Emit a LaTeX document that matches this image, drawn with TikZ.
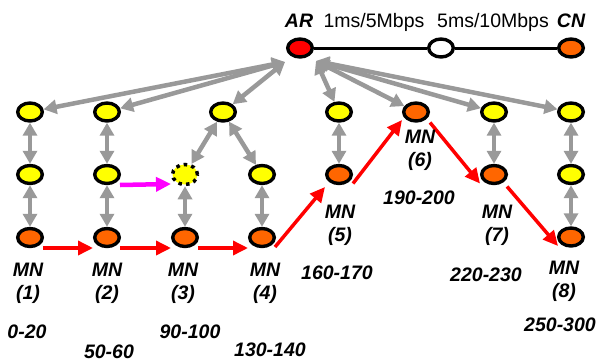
\documentclass[tikz,border=0pt]{standalone}
\usepackage{fontspec}
\setmainfont{Liberation Sans}
\usetikzlibrary{arrows.meta,calc,shapes.geometric}
\definecolor{grayc}{HTML}{999999}
\definecolor{yellowc}{HTML}{FFFF00}
\definecolor{orangec}{HTML}{FF6600}
\definecolor{redc}{HTML}{FF0000}
\definecolor{magc}{HTML}{FF00FF}
\begin{document}
\begin{tikzpicture}[x=1pt,y=-1pt,
  nd/.style={ellipse, draw=black, line width=3.4pt, minimum width=24.6pt, minimum height=18pt, inner sep=0pt},
  yel/.style={nd, fill=yellowc},
  org/.style={nd, fill=orangec},
  arnode/.style={nd, fill=redc},
  whnode/.style={nd, fill=white},
  dotnode/.style={ellipse, draw=black, line width=3.5pt, dash pattern=on 3.5pt off 4.2pt, fill=yellowc, minimum width=25pt, minimum height=20pt, inner sep=0pt},
  garrow/.style={draw=grayc, line width=4.5pt, {Triangle[length=13pt,width=14pt]}-{Triangle[length=13pt,width=14pt]}},
  rarrow/.style={draw=redc, line width=3.5pt, -{Triangle[length=15pt,width=14pt]}},
  marrow/.style={draw=magc, line width=4.5pt, -{Triangle[length=15pt,width=14pt]}},
  link/.style={draw=black, line width=3pt},
  lbl/.style={font=\fontsize{19.5}{23}\selectfont\bfseries\itshape, inner sep=0pt, align=center},
  rng/.style={font=\fontsize{19.5}{23}\selectfont\bfseries\itshape, inner sep=0pt},
  toptxt/.style={font=\fontsize{19.5}{23}\selectfont, inner sep=0pt, anchor=base},
]
\useasboundingbox (0,0) rectangle (599,362);

% top line
\node[arnode] (AR) at (300,48) {};
\node[whnode] (W) at (441,48) {};
\node[org] (CN) at (571,48) {};
\draw[link] (AR) -- (W) -- (CN);
\node[toptxt] (ARt) at (299,27) {\bfseries\itshape AR};
\node[toptxt] (l1) at (374,27) {1ms/5Mbps};
\node[toptxt] (l2) at (493,27) {5ms/10Mbps};
\node[toptxt] (CNt) at (571,27) {\bfseries\itshape CN};

% top row
\node[yel] (t1) at (30,112) {};
\node[yel] (t2) at (107,112) {};
\node[yel] (t3) at (223,112) {};
\node[yel] (t5) at (339,112) {};
\node[org] (n6) at (416,112) {};
\node[yel] (t7) at (494,112) {};
\node[yel] (t8) at (571,112) {};
% middle row
\node[yel] (m1) at (30,174.5) {};
\node[yel] (m2) at (107,174.5) {};
\node[dotnode] (d3) at (185,174.5) {};
\node[yel] (m4) at (262,174.5) {};
\node[org] (n5) at (339,174.5) {};
\node[org] (n7) at (494,174.5) {};
\node[yel] (m8) at (571,174.5) {};
% bottom row
\node[org] (n1) at (30,237.5) {};
\node[org] (n2) at (107,237.5) {};
\node[org] (n3) at (185,237.5) {};
\node[org] (n4) at (262,237.5) {};
\node[org] (n8) at (571,237) {};

% gray arrows from AR
\coordinate (ARl) at (285,62);
\coordinate (ARr) at (316,61);
\draw[garrow] (ARl) -- (t1);
\draw[garrow] (ARl) -- (t2);
\draw[garrow] (ARl) -- (t3);
\draw[garrow] (ARr) -- (t5);
\draw[garrow] (ARr) -- (n6);
\draw[garrow] (ARr) -- (t7);
\draw[garrow] (ARr) -- (t8);

% vertical gray arrows
\draw[garrow] (t1) -- (m1);
\draw[garrow] (m1) -- (n1);
\draw[garrow] (t2) -- (m2);
\draw[garrow] (m2) -- (n2);
\draw[garrow] (t3) -- (d3);
\draw[garrow] (t3) -- (m4);
\draw[garrow] (d3) -- (n3);
\draw[garrow] (m4) -- (n4);
\draw[garrow] (t5) -- (n5);
\draw[garrow] (t7) -- (n7);
\draw[garrow] (t8) -- (m8);
\draw[garrow] (m8) -- (n8);

% magenta
\draw[marrow] ($(m2)+(13,10.5)$) -- ($(d3)+(-14,9.5)$);

% red path
\draw[rarrow] ($(n1)+(13,10.5)$) -- ($(n2)+(-14,10.5)$);
\draw[rarrow] ($(n2)+(13,10.5)$) -- ($(n3)+(-14,10.5)$);
\draw[rarrow] ($(n3)+(13,10.5)$) -- ($(n4)+(-14,10.5)$);
\draw[rarrow] ($(n4)+(13,9.5)$) -- ($(n5)+(-14,12.5)$);
\draw[rarrow] ($(n5)+(14,9)$) -- ($(n6)+(-14,8)$);
\draw[rarrow] ($(n6)+(14,10.5)$) -- ($(n7)+(-14,9)$);
\draw[rarrow] ($(n7)+(13,12)$) -- ($(n8)+(-13,9)$);

% MN labels
\node[lbl] (L1) at (28,283.5) {MN\\(1)};
\node[lbl] (L2) at (107,283.5) {MN\\(2)};
\node[lbl] (L3) at (183,283.5) {MN\\(3)};
\node[lbl] (L4) at (265,283.5) {MN\\(4)};
\node[lbl] (L5) at (340,225.5) {MN\\(5)};
\node[lbl] (L6) at (420,150.5) {MN\\(6)};
\node[lbl] (L7) at (497,225.5) {MN\\(7)};
\node[lbl] (L8) at (564,281.5) {MN\\(8)};

% ranges
\node[rng] (r1) at (27,332) {0-20};
\node[rng] (r2) at (109,352) {50-60};
\node[rng] (r3) at (190,332) {90-100};
\node[rng] (r4) at (270,350) {130-140};
\node[rng] (r5) at (337,273) {160-170};
\node[rng] (r6) at (419,198) {190-200};
\node[rng] (r7) at (486,275) {220-230};
\node[rng] (r8) at (560,325) {250-300};
\end{tikzpicture}
\end{document}
